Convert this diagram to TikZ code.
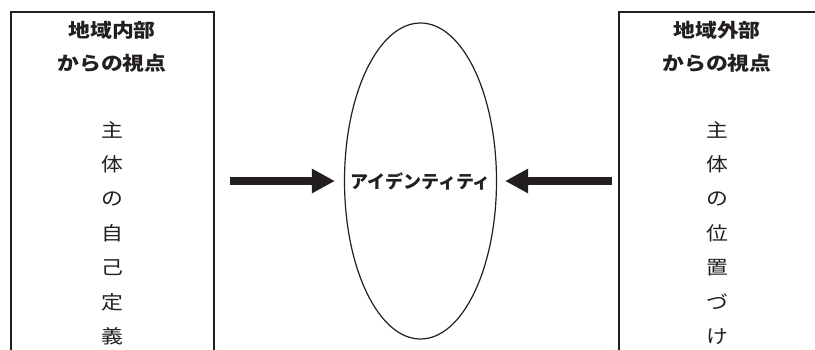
\documentclass[tikz,border=0pt]{standalone}
\usepackage{fontspec}
\setmainfont{Noto Sans CJK JP}
\usetikzlibrary{shapes.geometric,arrows.meta}
\definecolor{ink}{HTML}{231F20}
\begin{document}
\begin{tikzpicture}[x=1pt,y=-1pt,
    head/.style={font=\fontsize{19}{21}\selectfont\bfseries,xscale=1.15,text=ink},
    vchar/.style={font=\fontsize{19}{21}\selectfont,xscale=1.15,text=ink},
    bigarrow/.style={ink,line width=8pt,-{Triangle[length=23pt,width=23pt]}}]
  \useasboundingbox (0,0) rectangle (815,349);
  \clip (0,0) rectangle (815,349);
  % two viewpoint boxes, cut at the bottom
  \draw[ink,line width=1.6pt] (11,400) -- (11,12) -- (214,12) -- (214,400);
  \draw[ink,line width=1.6pt] (619,400) -- (619,12) -- (830,12);
  \node[head] (lt1) at (112,30) {地域内部};
  \node[head] (lt2) at (112,63) {からの視点};
  \node[head] (rt1) at (717,30) {地域外部};
  \node[head] (rt2) at (717,63) {からの視点};
  \foreach \c [count=\i] in {主,体,の,自,己,定,義}
    \node[vchar] (l\i) at (112,95.6+34.4*\i) {\c};
  \foreach \c [count=\i] in {主,体,の,位,置,づ,け}
    \node[vchar] (r\i) at (717,95.6+34.4*\i) {\c};
  % centre
  \node[draw=ink,line width=1.2pt,ellipse,minimum width=152pt,minimum height=316pt,
    inner sep=0pt] (idn) at (420.5,181) {};
  \node[font=\fontsize{18}{20}\selectfont\bfseries,text=ink] (idt) at (idn.center) {アイデンティティ};
  \coordinate (la) at (230,181);
  \coordinate (ra) at (612,181);
  \draw[bigarrow,shorten >=9pt] (la) -- (idn.west);
  \draw[bigarrow,shorten >=8pt] (ra) -- (idn.east);
\end{tikzpicture}
\end{document}
